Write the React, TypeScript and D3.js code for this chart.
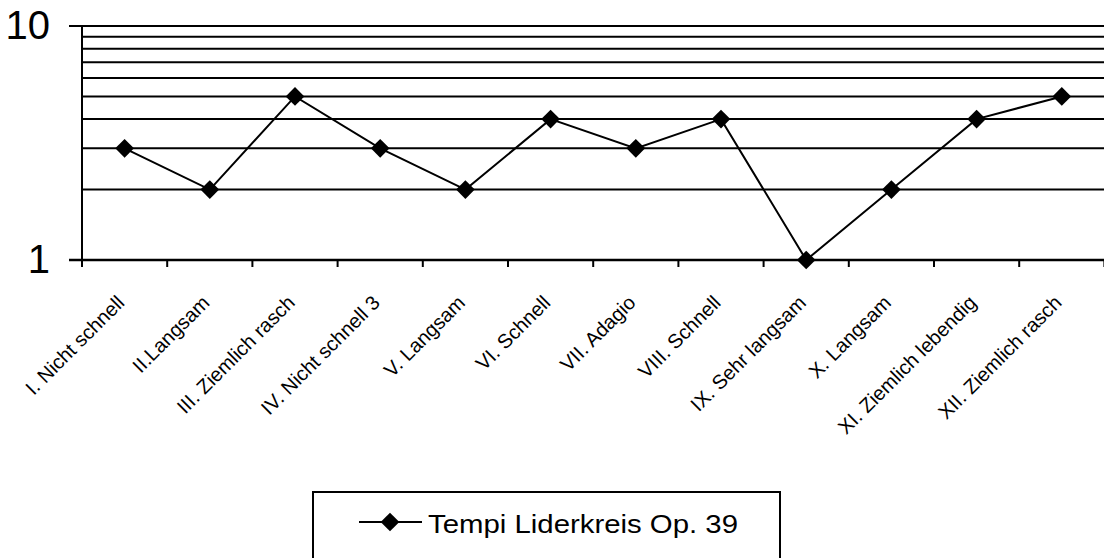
import React from "react";
import * as d3 from "d3";

const categories = [
  "I. Nicht schnell",
  "II.Langsam",
  "III. Ziemlich rasch",
  "IV. Nicht schnell 3",
  "V. Langsam",
  "VI. Schnell",
  "VII. Adagio",
  "VIII. Schnell",
  "IX. Sehr langsam",
  "X. Langsam",
  "XI. Ziemlich lebendig",
  "XII. Ziemlich rasch",
];
const tempi = [3, 2, 5, 3, 2, 4, 3, 4, 1, 2, 4, 5];
const gridValues = [2, 3, 4, 5, 6, 7, 8, 9, 10];
const yTickLabels = [1, 10];
const seriesName = "Tempi Liderkreis Op. 39";

const W = 1104;
const H = 558;
const FONT = "'Liberation Sans', Arial, Helvetica, sans-serif";

export default function App() {
  const x = d3.scaleBand<string>().domain(categories).range([82, 1104.4]).padding(0);
  const y = d3.scaleLog().domain([1, 10]).range([260, 26]);
  const cx = (c: string) => (x(c) as number) + x.bandwidth() / 2;

  const line = d3
    .line<number>()
    .x((_, i) => cx(categories[i]))
    .y((d) => y(d));

  const diamond = d3.symbol().type(d3.symbolSquare).size(175)() as string;

  const tickXs = categories.map((c) => x(c) as number).concat([(x(categories[categories.length - 1]) as number) + x.bandwidth()]);

  return (
    <svg
      width={W}
      height={H}
      style={{ position: "absolute", left: 0, top: 0, background: "#fff" }}
      fontFamily={FONT}
    >
      <rect x={0} y={0} width={W} height={H} fill="#fff" />
      {/* gridlines */}
      {gridValues.map((v) => (
        <line
          key={v}
          x1={v === 10 ? 69 : 82}
          x2={W}
          y1={y(v)}
          y2={y(v)}
          stroke="#000"
          strokeWidth={2}
        />
      ))}
      {/* x axis */}
      <line x1={69} x2={W} y1={y(1)} y2={y(1)} stroke="#000" strokeWidth={2.5} />
      {/* y axis */}
      <line x1={82} x2={82} y1={y(10)} y2={y(1) + 7} stroke="#000" strokeWidth={2} />
      {/* x ticks */}
      {tickXs.map((t, i) => (
        <line key={i} x1={t} x2={t} y1={y(1)} y2={y(1) + 7} stroke="#000" strokeWidth={2} />
      ))}
      {/* y labels */}
      {yTickLabels.map((v) => (
        <text key={v} x={50} y={y(v) + 13} fontSize={40} textAnchor="end" fill="#000">
          {v}
        </text>
      ))}
      {/* x labels */}
      {categories.map((c) => (
        <text
          key={c}
          transform={`translate(${cx(c) + 1},${304}) rotate(-45)`}
          fontSize={20}
          textAnchor="end"
          fill="#000"
        >
          {c}
        </text>
      ))}
      {/* series */}
      <path d={line(tempi) as string} fill="none" stroke="#000" strokeWidth={2} />
      {tempi.map((v, i) => (
        <path
          key={i}
          d={diamond}
          transform={`translate(${cx(categories[i])},${y(v)}) rotate(45)`}
          fill="#000"
        />
      ))}
      {/* legend */}
      <rect x={313} y={492} width={467} height={90} fill="none" stroke="#000" strokeWidth={2} />
      <line x1={359} x2={422} y1={522} y2={522} stroke="#000" strokeWidth={2} />
      <path d={diamond} transform={`translate(390,522) rotate(45)`} fill="#000" />
      <text x={428} y={533} fontSize={25} textLength={310} lengthAdjust="spacingAndGlyphs" fill="#000">
        {seriesName}
      </text>
    </svg>
  );
}
